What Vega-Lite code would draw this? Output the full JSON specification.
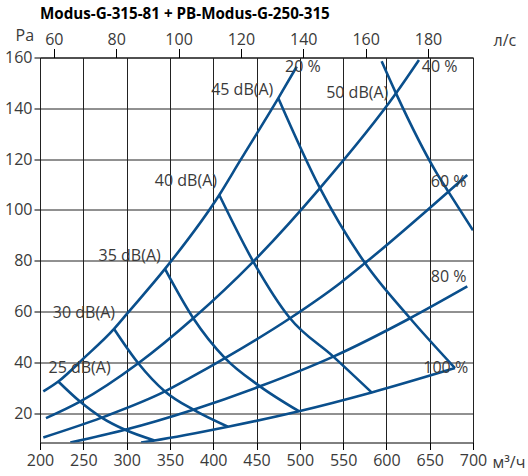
{
  "$schema": "https://vega.github.io/schema/vega-lite/v6.json",
  "width": 433,
  "height": 385,
  "autosize": {"type": "none"},
  "padding": {"left": 40, "top": 57.5, "right": 55, "bottom": 33.5},
  "title": {"text": "Modus-G-315-81 + PB-Modus-G-250-315", "anchor": "start", "frame": "group", "font": "Open Sans", "fontSize": 15.2, "fontWeight": "bold", "color": "#000", "offset": 5},
  "datasets": {
    "curves": [
      {"series": "20%", "q": 203.8, "p": 28.6}, {"series": "20%", "q": 221.1, "p": 32.5}, {"series": "20%", "q": 250, "p": 41.5}, {"series": "20%", "q": 285.5, "p": 53.2}, {"series": "20%", "q": 300.8, "p": 59.3}, {"series": "20%", "q": 344.3, "p": 76.8}, {"series": "20%", "q": 407.0, "p": 105.9}, {"series": "20%", "q": 430.9, "p": 119.3}, {"series": "20%", "q": 475.2, "p": 144.0}, {"series": "20%", "q": 496.4, "p": 156.4},
      {"series": "40%", "q": 206.9, "p": 18.1}, {"series": "40%", "q": 246.2, "p": 24.6}, {"series": "40%", "q": 313.5, "p": 39.7}, {"series": "40%", "q": 377.0, "p": 57.4}, {"series": "40%", "q": 446.3, "p": 79.7}, {"series": "40%", "q": 523.3, "p": 108.6}, {"series": "40%", "q": 611.1, "p": 145.9}, {"series": "40%", "q": 637.6, "p": 159.0},
      {"series": "60%", "q": 203.8, "p": 10.5}, {"series": "60%", "q": 271.2, "p": 18.3}, {"series": "60%", "q": 344.3, "p": 28.6}, {"series": "60%", "q": 373.2, "p": 33.9}, {"series": "60%", "q": 413.6, "p": 41.7}, {"series": "60%", "q": 488.7, "p": 57.4}, {"series": "60%", "q": 546.4, "p": 71.2}, {"series": "60%", "q": 575.3, "p": 79.1}, {"series": "60%", "q": 671.5, "p": 107.2}, {"series": "60%", "q": 693.4, "p": 113.8},
      {"series": "80%", "q": 235.0, "p": 8.5}, {"series": "80%", "q": 298.2, "p": 13.5}, {"series": "80%", "q": 377.0, "p": 21.4}, {"series": "80%", "q": 454.0, "p": 30.6}, {"series": "80%", "q": 538.7, "p": 42.3}, {"series": "80%", "q": 627.3, "p": 57.4}, {"series": "80%", "q": 693.4, "p": 69.9},
      {"series": "100%", "q": 316.7, "p": 8.5}, {"series": "100%", "q": 332.2, "p": 9.3}, {"series": "100%", "q": 417.0, "p": 14.7}, {"series": "100%", "q": 499.0, "p": 20.8}, {"series": "100%", "q": 583.0, "p": 28.2}, {"series": "100%", "q": 679.2, "p": 37.8},
      {"series": "25dB", "q": 221.1, "p": 32.5}, {"series": "25dB", "q": 246.2, "p": 24.6}, {"series": "25dB", "q": 271.2, "p": 18.3}, {"series": "25dB", "q": 298.2, "p": 13.5}, {"series": "25dB", "q": 332.2, "p": 9.3},
      {"series": "30dB", "q": 285.5, "p": 53.2}, {"series": "30dB", "q": 313.5, "p": 39.7}, {"series": "30dB", "q": 344.3, "p": 28.6}, {"series": "30dB", "q": 377.0, "p": 21.4}, {"series": "30dB", "q": 417.0, "p": 14.7},
      {"series": "35dB", "q": 344.3, "p": 76.8}, {"series": "35dB", "q": 377.0, "p": 57.4}, {"series": "35dB", "q": 413.6, "p": 41.7}, {"series": "35dB", "q": 454.0, "p": 30.6}, {"series": "35dB", "q": 499.0, "p": 20.8},
      {"series": "40dB", "q": 407.0, "p": 105.9}, {"series": "40dB", "q": 446.3, "p": 79.7}, {"series": "40dB", "q": 488.7, "p": 57.4}, {"series": "40dB", "q": 538.7, "p": 42.3}, {"series": "40dB", "q": 583.0, "p": 28.2},
      {"series": "45dB", "q": 475.2, "p": 144.0}, {"series": "45dB", "q": 523.3, "p": 108.6}, {"series": "45dB", "q": 575.3, "p": 79.1}, {"series": "45dB", "q": 627.3, "p": 57.4}, {"series": "45dB", "q": 679.2, "p": 37.8},
      {"series": "50dB", "q": 594.5, "p": 158.5}, {"series": "50dB", "q": 611.1, "p": 145.9}, {"series": "50dB", "q": 658.1, "p": 114.5}, {"series": "50dB", "q": 671.5, "p": 107.2}, {"series": "50dB", "q": 700, "p": 92.0}
    ],
    "pctLabels": [
      {"t": "20 %", "q": 482.9, "p": 156.4}, {"t": "40 %", "q": 640.8, "p": 156.4}, {"t": "60 %", "q": 651.2, "p": 111.2}, {"t": "80 %", "q": 651.2, "p": 73.8}, {"t": "100 %", "q": 642.6, "p": 37.8}
    ],
    "dbLabels": [
      {"t": "25 dB(A)", "q": 281.6, "p": 37.8}, {"t": "30 dB(A)", "q": 286.6, "p": 59.6}, {"t": "35 dB(A)", "q": 339.4, "p": 81.7}, {"t": "40 dB(A)", "q": 404.4, "p": 111.4}, {"t": "45 dB(A)", "q": 469.4, "p": 147.2}, {"t": "50 dB(A)", "q": 602.2, "p": 145.9}
    ]
  },
  "layer": [
    {
      "layer": [
        {
          "data": {"name": "curves"},
          "mark": {"type": "line", "interpolate": "monotone", "strokeWidth": 2.6, "color": "#0a4f8c", "clip": true},
          "encoding": {
            "x": {"field": "q", "type": "quantitative", "scale": {"domain": [200, 700], "nice": false, "zero": false},
              "axis": {"values": [200, 250, 300, 350, 400, 450, 500, 550, 600, 650, 700], "grid": true, "tickSize": 7, "labelPadding": 3, "labelFlush": false, "title": "м³/ч", "titleX": 452, "titleY": 20, "titleAlign": "left", "titleBaseline": "middle", "titleAnchor": null}},
            "y": {"field": "p", "type": "quantitative", "scale": {"domain": [8.5, 160], "nice": false, "zero": false},
              "axis": {"values": [20, 40, 60, 80, 100, 120, 140, 160], "grid": true, "tickSize": 6, "labelPadding": 2, "labelFlush": false, "title": "Pa", "titleAngle": 0, "titleX": -25, "titleY": -22, "titleAlign": "left", "titleBaseline": "middle", "titleAnchor": null}},
            "detail": {"field": "series"}
          }
        },
        {
          "data": {"name": "pctLabels"},
          "mark": {"type": "text", "align": "left", "baseline": "middle", "font": "Open Sans", "fontSize": 16, "color": "#3a3a3a"},
          "encoding": {
            "x": {"field": "q", "type": "quantitative"},
            "y": {"field": "p", "type": "quantitative"},
            "text": {"field": "t"}
          }
        },
        {
          "data": {"name": "dbLabels"},
          "mark": {"type": "text", "align": "right", "baseline": "middle", "font": "Open Sans", "fontSize": 16, "color": "#3a3a3a"},
          "encoding": {
            "x": {"field": "q", "type": "quantitative"},
            "y": {"field": "p", "type": "quantitative"},
            "text": {"field": "t"}
          }
        }
      ]
    },
    {
      "data": {"values": [{"ls": 60}, {"ls": 180}]},
      "mark": {"type": "point", "opacity": 0},
      "encoding": {
        "x": {"field": "ls", "type": "quantitative", "scale": {"domain": [55.5556, 194.4444], "nice": false, "zero": false},
          "axis": {"orient": "top", "values": [60, 80, 100, 120, 140, 160, 180], "grid": false, "tickSize": 9, "labelPadding": 1, "labelFlush": false, "title": "л/с", "titleX": 453, "titleY": -17.5, "titleAlign": "left", "titleBaseline": "middle", "titleAnchor": null}}
      }
    }
  ],
  "resolve": {"scale": {"x": "independent"}, "axis": {"x": "independent"}},
  "config": {
    "font": "Open Sans",
    "view": {"stroke": "#000", "strokeWidth": 1},
    "axis": {
      "domain": false,
      "gridColor": "#222",
      "gridWidth": 1,
      "gridOpacity": 1,
      "tickColor": "#000",
      "tickWidth": 1,
      "labelFont": "Open Sans",
      "labelFontSize": 16,
      "labelColor": "#3a3a3a",
      "titleFont": "Open Sans",
      "titleFontSize": 16,
      "titleFontWeight": "normal",
      "titleColor": "#3a3a3a"
    }
  }
}
